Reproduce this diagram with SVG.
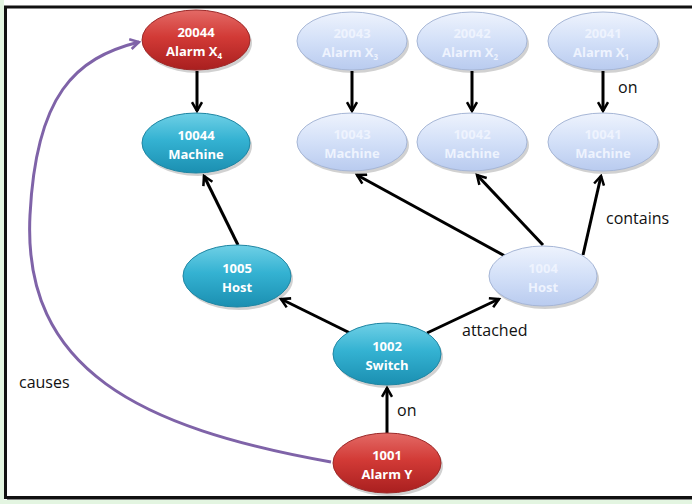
<svg xmlns="http://www.w3.org/2000/svg" width="692" height="504" viewBox="0 0 692 504">
<defs>
<linearGradient id="gRed" x1="0" y1="0" x2="0" y2="1">
<stop offset="0" stop-color="#e36a66"/><stop offset="0.45" stop-color="#d23a36"/><stop offset="1" stop-color="#a91f1f"/>
</linearGradient>
<linearGradient id="gCyan" x1="0" y1="0" x2="0" y2="1">
<stop offset="0" stop-color="#6fd0e6"/><stop offset="0.45" stop-color="#34b2d2"/><stop offset="1" stop-color="#1b8fb1"/>
</linearGradient>
<linearGradient id="gLight" x1="0" y1="0" x2="0" y2="1">
<stop offset="0" stop-color="#eef3fd"/><stop offset="0.5" stop-color="#d3e0f8"/><stop offset="1" stop-color="#b9cbef"/>
</linearGradient>
<marker id="ah" viewBox="0 0 10 10" refX="8" refY="5" markerWidth="4.2" markerHeight="4.2" orient="auto" markerUnits="strokeWidth">
<path d="M1 1 L8 5 L1 9" fill="none" stroke="#000" stroke-width="2"/>
</marker>
<marker id="ahp" viewBox="0 0 10 10" refX="8" refY="5" markerWidth="4.2" markerHeight="4.2" orient="auto" markerUnits="strokeWidth">
<path d="M1 1 L8 5 L1 9" fill="none" stroke="#7f63a8" stroke-width="2"/>
</marker>
</defs>
<style>
.red{fill:url(#gRed);stroke:#9c2a2a;stroke-width:1}
.cyan{fill:url(#gCyan);stroke:#1f86a3;stroke-width:1}
.light{fill:url(#gLight);stroke:#a6b6d6;stroke-width:1}
.sh{fill:#000;opacity:0.18}
.t{font-family:"Open Sans","Liberation Sans",sans-serif;font-weight:bold;font-size:13px;fill:#fff;text-anchor:middle}
.tl{font-family:"Open Sans","Liberation Sans",sans-serif;font-weight:bold;font-size:13px;fill:#eef3fe;text-anchor:middle}
.lbl{font-family:"Open Sans","Liberation Sans",sans-serif;font-size:16px;fill:#111}
.e{stroke:#000;stroke-width:3;fill:none;marker-end:url(#ah)}
</style>
<rect x="0" y="0" width="692" height="504" fill="#ffffff"/>
<rect x="0" y="0" width="4" height="504" fill="#e3f5e1"/>
<rect x="0" y="500" width="692" height="4" fill="#e3f5e1"/>
<line x1="4" y1="7" x2="692" y2="7" stroke="#111" stroke-width="3"/>
<line x1="5.5" y1="6" x2="5.5" y2="499" stroke="#111" stroke-width="3"/>
<line x1="4" y1="497.5" x2="692" y2="497.5" stroke="#111" stroke-width="3"/>
<line x1="7" y1="499.5" x2="692" y2="499.5" stroke="#888" stroke-width="1"/>

<g id="edges">
<line class="e" x1="197" y1="71" x2="197" y2="111"/>
<line class="e" x1="352" y1="71" x2="352" y2="111"/>
<line class="e" x1="472" y1="71" x2="472" y2="111"/>
<line class="e" x1="603" y1="71" x2="603" y2="111"/>
<line class="e" x1="238" y1="245" x2="204" y2="176"/>
<line class="e" x1="505" y1="256" x2="357" y2="175"/>
<line class="e" x1="543" y1="245" x2="477" y2="175"/>
<line class="e" x1="583" y1="255" x2="601" y2="176"/>
<line class="e" x1="350" y1="333" x2="281" y2="299"/>
<line class="e" x1="427" y1="333" x2="499" y2="299"/>
<line class="e" x1="387" y1="433" x2="387" y2="388"/>
<path d="M331 462 C 140 428, 22 370, 30 215 C 36 95, 75 58, 139 42" fill="none" stroke="#7f63a8" stroke-width="3" marker-end="url(#ahp)"/>
<text class="lbl" x="19" y="388">causes</text>
<text class="lbl" x="397" y="416">on</text>
<text class="lbl" x="462" y="336">attached</text>
<text class="lbl" x="606" y="224">contains</text>
<text class="lbl" x="618" y="93">on</text>
</g>

<g id="n20044">
<ellipse class="sh" cx="198" cy="43" rx="54" ry="30"/>
<ellipse class="red" cx="196" cy="40" rx="54" ry="30"/>
<text class="t" x="196" y="37">20044</text>
<text class="t" x="194" y="56">Alarm X<tspan font-size="8" dy="3">4</tspan></text>
</g>
<g id="n10044">
<ellipse class="sh" cx="198" cy="146" rx="54" ry="30"/>
<ellipse class="cyan" cx="196" cy="143" rx="54" ry="30"/>
<text class="t" x="196" y="140">10044</text>
<text class="t" x="196" y="159">Machine</text>
</g>
<g id="n20043">
<ellipse class="sh" cx="354" cy="44" rx="55" ry="29"/>
<ellipse class="light" cx="352" cy="41" rx="55" ry="29"/>
<text class="tl" x="352" y="38">20043</text>
<text class="tl" x="350" y="57">Alarm X<tspan font-size="8" dy="3">3</tspan></text>
</g>
<g id="n20042">
<ellipse class="sh" cx="474" cy="44" rx="55" ry="29"/>
<ellipse class="light" cx="472" cy="41" rx="55" ry="29"/>
<text class="tl" x="472" y="38">20042</text>
<text class="tl" x="470" y="57">Alarm X<tspan font-size="8" dy="3">2</tspan></text>
</g>
<g id="n20041">
<ellipse class="sh" cx="605" cy="44" rx="55" ry="29"/>
<ellipse class="light" cx="603" cy="41" rx="55" ry="29"/>
<text class="tl" x="603" y="38">20041</text>
<text class="tl" x="601" y="57">Alarm X<tspan font-size="8" dy="3">1</tspan></text>
</g>
<g id="n10043">
<ellipse class="sh" cx="354" cy="145" rx="55" ry="29"/>
<ellipse class="light" cx="352" cy="142" rx="55" ry="29"/>
<text class="tl" x="352" y="139">10043</text>
<text class="tl" x="352" y="158">Machine</text>
</g>
<g id="n10042">
<ellipse class="sh" cx="474" cy="145" rx="55" ry="29"/>
<ellipse class="light" cx="472" cy="142" rx="55" ry="29"/>
<text class="tl" x="472" y="139">10042</text>
<text class="tl" x="472" y="158">Machine</text>
</g>
<g id="n10041">
<ellipse class="sh" cx="605" cy="145" rx="55" ry="29"/>
<ellipse class="light" cx="603" cy="142" rx="55" ry="29"/>
<text class="tl" x="603" y="139">10041</text>
<text class="tl" x="603" y="158">Machine</text>
</g>
<g id="n1005">
<ellipse class="sh" cx="239" cy="279" rx="54" ry="31"/>
<ellipse class="cyan" cx="237" cy="276" rx="54" ry="31"/>
<text class="t" x="237" y="273">1005</text>
<text class="t" x="237" y="292">Host</text>
</g>
<g id="n1004">
<ellipse class="sh" cx="545" cy="279" rx="54" ry="30"/>
<ellipse class="light" cx="543" cy="276" rx="54" ry="30"/>
<text class="tl" x="543" y="273">1004</text>
<text class="tl" x="543" y="292">Host</text>
</g>
<g id="n1002">
<ellipse class="sh" cx="389" cy="357" rx="54" ry="31"/>
<ellipse class="cyan" cx="387" cy="354" rx="54" ry="31"/>
<text class="t" x="387" y="351">1002</text>
<text class="t" x="387" y="370">Switch</text>
</g>
<g id="n1001">
<ellipse class="sh" cx="389" cy="466" rx="54" ry="30"/>
<ellipse class="red" cx="387" cy="463" rx="54" ry="30"/>
<text class="t" x="387" y="460">1001</text>
<text class="t" x="387" y="479">Alarm Y</text>
</g>
</svg>
